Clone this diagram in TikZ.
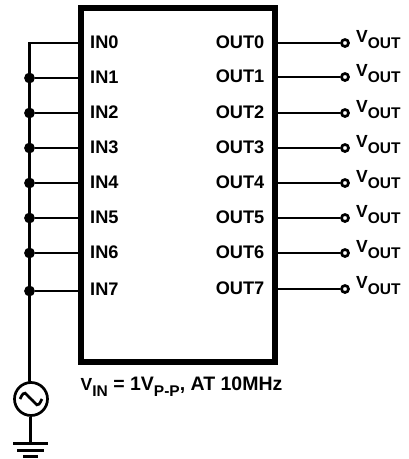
\documentclass[tikz,border=0pt]{standalone}
\usepackage{fontspec}
\setmainfont{Liberation Sans}[Ligatures=TeX]
\newcommand{\mainsz}{\fontsize{18.2}{20}\selectfont\bfseries}
\newcommand{\vsz}{\fontsize{17.5}{20}\selectfont\bfseries}
\newcommand{\subsz}{\fontsize{15.5}{20}\selectfont\bfseries}
\newcommand{\lowtxt}[2]{\raisebox{-#1pt}{\subsz #2}}
\tikzset{
  lbl/.style={font=\mainsz, inner sep=0pt, text=black},
  vtxt/.style={font=\vsz, inner sep=0pt, anchor=base west, text=black},
  wire/.style={line width=2.7pt, draw=black},
  dotj/.style={circle, fill=black, draw=none, minimum size=10.8pt, inner sep=0pt},
  term/.style={circle, fill=white, draw=black, line width=2.7pt, minimum size=7pt, inner sep=0pt},
  chip/.style={draw=black, line width=5.6pt, fill=white, miter limit=10},
}
\begin{document}
\begin{tikzpicture}[x=1pt,y=-1pt]
\useasboundingbox (0,0) rectangle (409,459);
\fill[white] (0,0) rectangle (409,459);
\draw[chip] (81,8) rectangle (275,362);
\foreach \i/\yy/\ly/\oy in {0/43/43/43,1/78/78/77,2/113/113/113,3/148/148/148,4/183/183/183,5/218/218/218,6/253/253/253,7/291/290/289}{
  \coordinate (pin\i) at (78,\yy);
  \coordinate (pout\i) at (278,\oy);
  \coordinate (j\i) at (29.5,\yy);
  \node[lbl,anchor=west] (in\i) at (90,\ly-1) {IN\i};
  \node[lbl,anchor=east] (out\i) at (264.5,\oy-1) {OUT\i};
  \node[term] (t\i) at (345,\oy) {};
  \draw[wire] (pout\i) -- (t\i);
  \node[vtxt] (v\i) at (356,\oy-1) {V\lowtxt{6}{OUT}};
}
\node[circle,draw=black,line width=2.7pt,minimum size=33pt,inner sep=0pt] (src) at (31,399) {};
\draw[line width=2.7pt] ([xshift=-11pt]src.center) .. controls ++(5,-10.5) and ++(-6,-5) .. (src.center) .. controls ++(6,5) and ++(-5,10.5) .. ([xshift=11pt]src.center);
\coordinate (bend) at (29.5,43);
\draw[wire,line cap=round] (pin0) -- (bend) -- (j7) -- (j7 |- src.north);
\foreach \i in {1,...,7}{
  \node[dotj] (d\i) at (j\i) {};
  \draw[wire] (d\i) -- (pin\i);
}
\coordinate (gnd) at (30.2,443);
\draw[wire] (gnd |- src.south) -- (gnd);
\draw[line width=3pt] (13,443.3) -- (48,443.3);
\draw[line width=3pt] (17,450.3) -- (44,450.3);
\draw[line width=3pt] (23,456.8) -- (38,456.8);
\node[vtxt] (vin) at (80.5,390.7) {V\lowtxt{5.5}{IN}{\fontsize{19.5}{20}\selectfont\bfseries{} = 1V}\lowtxt{5.5}{P-P}{\fontsize{19.5}{20}\selectfont\bfseries, AT 10MHz}};
\end{tikzpicture}
\end{document}
